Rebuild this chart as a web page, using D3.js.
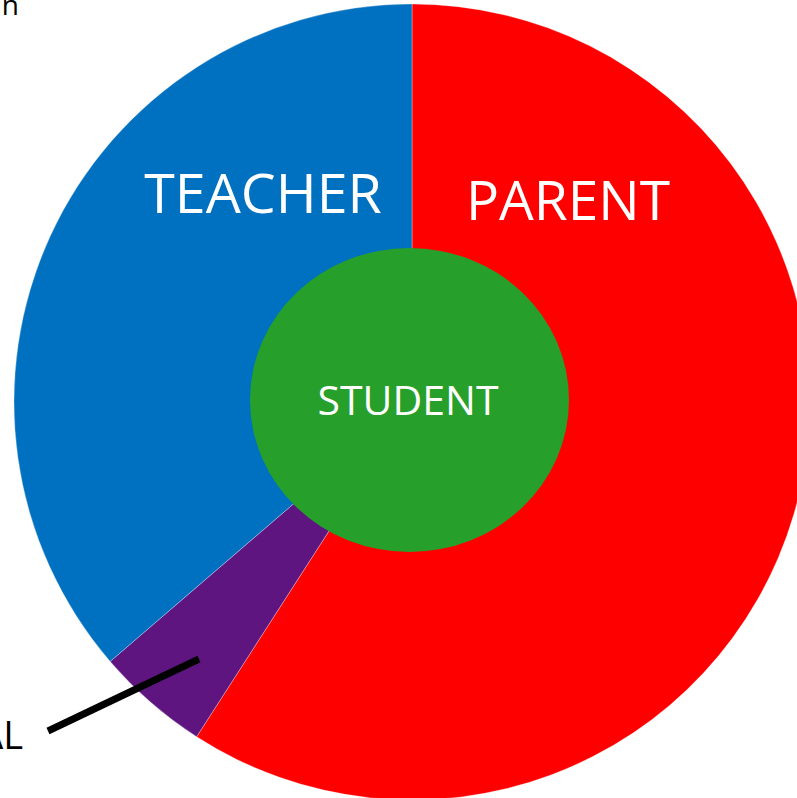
<!DOCTYPE html>
<html><head><meta charset="utf-8">
<script src="https://cdn.jsdelivr.net/npm/d3@7"></script>
<style>html,body{margin:0;padding:0;background:#fff;overflow:hidden}</style>
</head><body>
<svg id="c" width="797" height="798"></svg>
<script>
const categories = ["PARENT", "PRINCIPAL", "TEACHER"];
const values = [59.1, 4.6, 36.3];
const colors = ["#FF0000", "#5E1580", "#0070C0"];
const centerLabel = "STUDENT";
const topText = "n";

const svg = d3.select("#c");
const cx = 412, cy = 402, R = 398;
const g = svg.append("g").attr("transform", `translate(${cx},${cy})`);

const pie = d3.pie().sort(null).value(d => d.v);
const arcs = pie(categories.map((c, i) => ({c, v: values[i], col: colors[i]})));
const arc = d3.arc().innerRadius(0).outerRadius(R);

g.selectAll("path").data(arcs).join("path")
  .attr("d", arc)
  .attr("fill", d => d.data.col)
  .attr("stroke", "rgba(255,255,255,0.5)")
  .attr("stroke-width", 0.6);

// center ellipse
g.append("ellipse").attr("cx", -2.5).attr("cy", -2).attr("rx", 159.5).attr("ry", 152)
  .attr("fill", "#26A02B");

const font = "'Open Sans', sans-serif";
// labels
svg.append("text").attr("x", 263).attr("y", 213).attr("text-anchor", "middle")
  .attr("font-family", font).attr("font-size", 55.5).attr("fill", "#fff").text(categories[2]);
svg.append("text").attr("x", 568).attr("y", 220).attr("text-anchor", "middle")
  .attr("font-family", font).attr("font-size", 55).attr("fill", "#fff").text(categories[0]);
svg.append("text").attr("x", 408).attr("y", 415).attr("text-anchor", "middle")
  .attr("font-family", font).attr("font-size", 41).attr("fill", "#fff").text(centerLabel);

// principal label with leader
svg.append("line").attr("x1", 48).attr("y1", 731).attr("x2", 199).attr("y2", 659)
  .attr("stroke", "#000").attr("stroke-width", 7);
svg.append("text").attr("x", 23).attr("y", 749).attr("text-anchor", "end")
  .attr("font-family", font).attr("font-size", 38).attr("fill", "#000").text(categories[1]);

svg.append("text").attr("x", 19).attr("y", 15).attr("text-anchor", "end")
  .attr("font-family", font).attr("font-size", 28).attr("fill", "#000").text(topText);
</script>
</body></html>
